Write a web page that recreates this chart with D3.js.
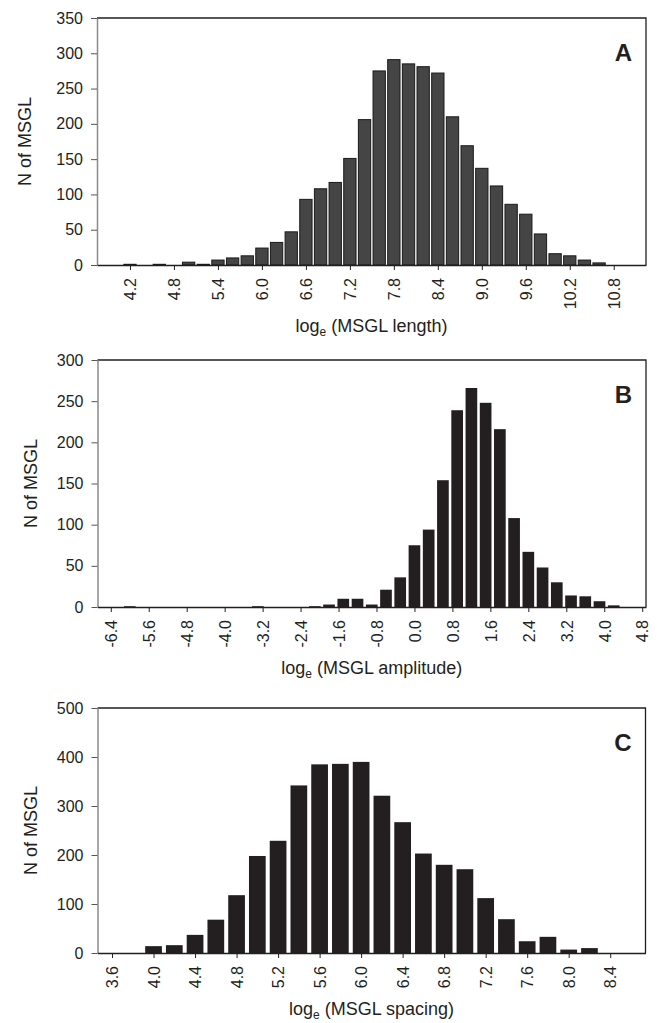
<!DOCTYPE html>
<html>
<head>
<meta charset="utf-8">
<script src="https://cdn.jsdelivr.net/npm/d3@7"></script>
<style>
  body { margin: 0; background: #fff; }
  svg { display: block; font-family: "Liberation Sans", Arial, sans-serif; }
</style>
</head>
<body>
<svg id="chart"></svg>
<script>
// panel A - log length
const lengthBins = [4.2, 4.6, 5.0, 5.2, 5.4, 5.6, 5.8, 6.0, 6.2, 6.4, 6.6, 6.8, 7.0, 7.2, 7.4, 7.6, 7.8, 8.0, 8.2, 8.4, 8.6, 8.8, 9.0, 9.2, 9.4, 9.6, 9.8, 10.0, 10.2, 10.4, 10.6];
const lengthCounts = [1, 1, 4, 1, 7, 10, 13, 24, 32, 47, 93, 108, 117, 151, 206, 275, 291, 285, 281, 272, 210, 169, 137, 112, 86, 72, 44, 16, 13, 7, 3];
const lengthTicks = ["4.2", "4.8", "5.4", "6.0", "6.6", "7.2", "7.8", "8.4", "9.0", "9.6", "10.2", "10.8"];
const lengthYTicks = [0, 50, 100, 150, 200, 250, 300, 350];

// panel B - log amplitude
const amplitudeBins = [-6.0, -3.3, -2.1, -1.8, -1.5, -1.2, -0.9, -0.6, -0.3, 0.0, 0.3, 0.6, 0.9, 1.2, 1.5, 1.8, 2.1, 2.4, 2.7, 3.0, 3.3, 3.6, 3.9, 4.2];
const amplitudeCounts = [1, 1, 1, 3, 10, 10, 3, 21, 36, 75, 94, 154, 239, 266, 248, 216, 108, 67, 48, 30, 14, 13, 7, 2];
const amplitudeTicks = ["-6.4", "-5.6", "-4.8", "-4.0", "-3.2", "-2.4", "-1.6", "-0.8", "0.0", "0.8", "1.6", "2.4", "3.2", "4.0", "4.8"];
const amplitudeYTicks = [0, 50, 100, 150, 200, 250, 300];

// panel C - log spacing
const spacingBins = [4.0, 4.2, 4.4, 4.6, 4.8, 5.0, 5.2, 5.4, 5.6, 5.8, 6.0, 6.2, 6.4, 6.6, 6.8, 7.0, 7.2, 7.4, 7.6, 7.8, 8.0, 8.2];
const spacingCounts = [14, 16, 37, 68, 118, 198, 229, 342, 385, 386, 390, 321, 267, 203, 180, 171, 112, 69, 24, 33, 7, 10];
const spacingTicks = ["3.6", "4.0", "4.4", "4.8", "5.2", "5.6", "6.0", "6.4", "6.8", "7.2", "7.6", "8.0", "8.4"];
const spacingYTicks = [0, 100, 200, 300, 400, 500];

const width = 659;
const height = 1023;
const ink = "#231f20";

const svg = d3.select("#chart").attr("width", width).attr("height", height);

const panels = [
  {
    bins: lengthBins, counts: lengthCounts, ticks: lengthTicks, yTicks: lengthYTicks,
    xDomain: [3.75, 11.24], barWidth: 0.168,
    box: { left: 97, right: 646, top: 18, bottom: 265 },
    fill: "#454545", stroke: "#1a1a1a",
    letter: "A", name: "length", yLabelX: 24, xLabelGap: 67
  },
  {
    bins: amplitudeBins, counts: amplitudeCounts, ticks: amplitudeTicks, yTicks: amplitudeYTicks,
    xDomain: [-6.68, 4.88], barWidth: 0.246,
    box: { left: 97.5, right: 646, top: 360, bottom: 607 },
    fill: ink, stroke: "none",
    letter: "B", name: "amplitude", yLabelX: 29.5, xLabelGap: 67
  },
  {
    bins: spacingBins, counts: spacingCounts, ticks: spacingTicks, yTicks: spacingYTicks,
    xDomain: [3.46, 8.74], barWidth: 0.161,
    box: { left: 97.5, right: 645.5, top: 708, bottom: 953 },
    fill: ink, stroke: "none",
    letter: "C", name: "spacing", yLabelX: 29.5, xLabelGap: 62
  }
];

panels.forEach((p) => {
  const b = p.box;
  const g = svg.append("g");

  const x_scale = d3.scaleLinear().domain(p.xDomain).range([b.left, b.right]);
  const y_scale = d3
    .scaleLinear()
    .domain([0, d3.max(p.yTicks)])
    .range([b.bottom, b.top]);

  const bars = p.bins.map((d, i) => ({ bin: d, n: p.counts[i] }));

  g.selectAll(".bar")
    .data(bars)
    .enter()
    .append("rect")
    .attr("class", "bar")
    .attr("x", (d) => x_scale(d.bin - p.barWidth / 2))
    .attr("y", (d) => y_scale(d.n))
    .attr("width", (d) => x_scale(d.bin + p.barWidth / 2) - x_scale(d.bin - p.barWidth / 2))
    .attr("height", (d) => y_scale(0) - y_scale(d.n))
    .attr("fill", p.fill)
    .attr("stroke", p.stroke)
    .attr("stroke-width", 1);

  // frame: top and right
  g.append("path")
    .attr("d", `M${b.left},${b.top}H${b.right}V${b.bottom}`)
    .attr("fill", "none")
    .attr("stroke", ink)
    .attr("stroke-width", 1.3);

  // y axis
  const yAxis = g
    .append("g")
    .attr("transform", `translate(${b.left},0)`)
    .call(d3.axisLeft(y_scale).tickValues(p.yTicks).tickSize(6).tickPadding(8).tickSizeOuter(0));
  yAxis.select(".domain").attr("stroke", "#8a8a8a").attr("stroke-width", 1.5);
  yAxis.selectAll(".tick line").attr("stroke", "#555");
  yAxis.selectAll("text").attr("font-size", 16).attr("fill", ink).attr("font-family", null);

  // x axis
  const tickVals = p.ticks.map((t) => parseFloat(t));
  const xAxis = g
    .append("g")
    .attr("transform", `translate(0,${b.bottom})`)
    .call(
      d3
        .axisBottom(x_scale)
        .tickValues(tickVals)
        .tickFormat((d, i) => p.ticks[i])
        .tickSize(5)
        .tickSizeOuter(0)
    );
  xAxis.select(".domain").attr("stroke", ink).attr("stroke-width", 1.5);
  xAxis.selectAll(".tick line").attr("stroke", ink);
  xAxis
    .selectAll("text")
    .attr("font-size", 16)
    .attr("fill", ink)
    .attr("font-family", null)
    .attr("transform", "rotate(-90)")
    .attr("text-anchor", "end")
    .attr("x", -13)
    .attr("y", 0)
    .attr("dy", "0.36em");

  // x label with subscript e
  const xl = g
    .append("text")
    .attr("x", (b.left + b.right) / 2)
    .attr("y", b.bottom + p.xLabelGap)
    .attr("text-anchor", "middle")
    .attr("font-size", 18)
    .attr("fill", ink);
  xl.append("tspan").text("log");
  xl.append("tspan").attr("dy", 4).attr("font-size", 12).text("e");
  xl.append("tspan").attr("dy", -4).text(` (MSGL ${p.name})`);

  // y label
  g.append("text")
    .attr("transform", `translate(${p.yLabelX + 7},${(b.top + b.bottom) / 2}) rotate(-90)`)
    .attr("text-anchor", "middle")
    .attr("font-size", 18)
    .attr("fill", ink)
    .text("N of MSGL");

  // panel letter
  g.append("text")
    .attr("x", b.right - 14)
    .attr("y", b.top + 43)
    .attr("text-anchor", "end")
    .attr("font-size", 24)
    .attr("font-weight", "bold")
    .attr("fill", ink)
    .text(p.letter);
});
</script>
</body>
</html>
